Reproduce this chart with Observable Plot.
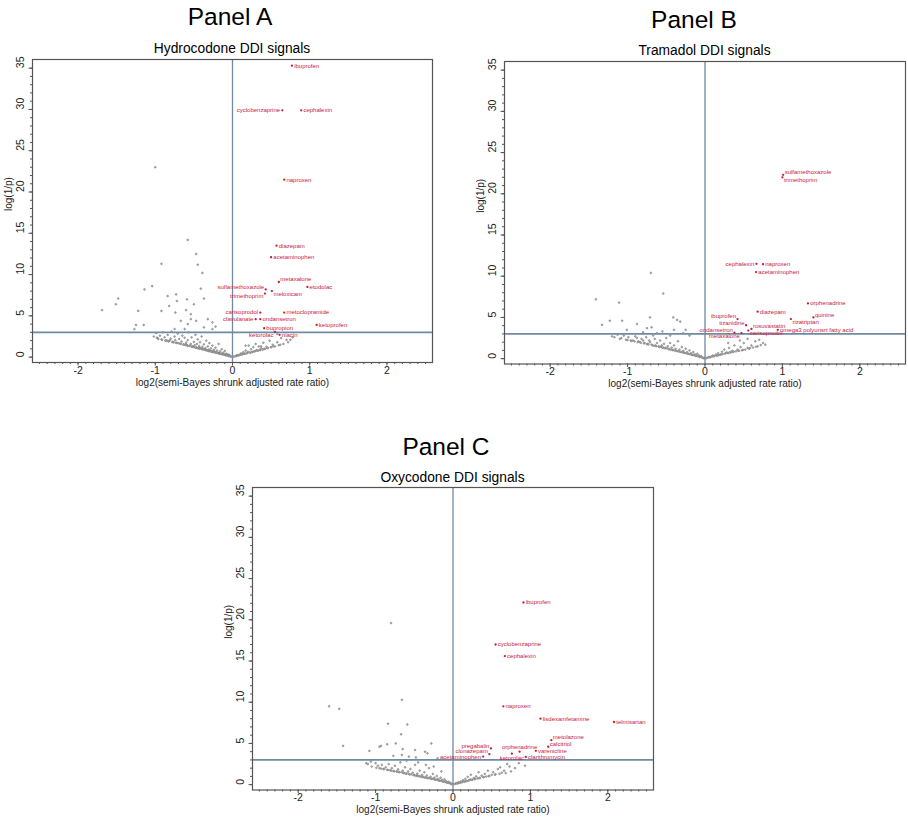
<!DOCTYPE html>
<html><head><meta charset="utf-8">
<script src="https://cdn.jsdelivr.net/npm/d3@7"></script>
<script src="https://cdn.jsdelivr.net/npm/@observablehq/plot@0.6"></script>
<style>
body{margin:0;background:#fff;}
#wrap{position:relative;width:908px;height:819px;overflow:hidden;background:#fff;font-family:"Liberation Sans",Arial,Helvetica,sans-serif;}
#wrap > div.p{position:absolute;}
#titles{position:absolute;left:0;top:0;pointer-events:none;}
</style></head>
<body><div id="wrap"></div>
<script>
// ---------------- DATA ----------------
const panelTitles = ["Panel A", "Panel B", "Panel C"];
const subTitles = ["Hydrocodone DDI signals", "Tramadol DDI signals", "Oxycodone DDI signals"];
const xLabel = "log2(semi-Bayes shrunk adjusted rate ratio)";
const yLabel = "log(1/p)";
const xTickValues = [-2, -1, 0, 1, 2];
const yTickValues = [0, 5, 10, 15, 20, 25, 30, 35];
const pThreshold = 3;

// Panel A: hydrocodone
const hydroNames = ["ibuprofen","cyclobenzaprine","cephalexin","naproxen","diazepam","acetaminophen","metaxalone","etodolac","sulfamethoxazole","trimethoprim","meloxicam","carisoprodol","metoclopramide","clavulanate","ondansetron","ketoprofen","bupropion","ketorolac","niacin"];
const hydroX = [0.77,0.645,0.89,0.67,0.57,0.50,0.60,0.97,0.43,0.42,0.51,0.36,0.67,0.30,0.36,1.09,0.41,0.55,0.61];
const hydroY = [35.3,29.9,29.9,21.5,13.5,12.1,9.1,8.5,8.2,7.7,8.0,5.4,5.4,4.6,4.6,3.9,3.5,3.05,2.7];
const hydroOther = [
[-0.58,14.2],[-0.47,12.5],[-0.92,11.3],[-0.45,11.2],[-0.39,10.2],[-1.04,8.6],[-1.14,8.2],[-0.41,8.3],[-1.48,7.1],[-0.73,7.6],[-0.84,7.4],[-0.59,7.0],[-0.37,7.1],[-1.51,6.4],[-0.82,6.2],[-0.72,6.8],[-0.50,6.4],[-1.69,5.7],[-1.22,5.6],[-0.92,5.6],[-0.60,5.7],[-0.74,5.4],[-0.54,5.2],[-1.0,23.0],
[-1.27,3.4],[-1.15,3.9],[-1.25,3.9],[-0.75,3.4],[-0.62,3.4],[-0.47,4.4],[-0.32,4.6],[-0.26,4.2],[-0.22,3.7],[-0.67,4.4],[-0.58,4.0],[-0.54,4.6],[-0.37,3.6],[-0.26,3.4],
[-1.02,2.5],[-0.99,2.9],[-0.97,2.3],[-0.94,2.6],[-0.92,2.15],[-0.9,3.0],[-0.88,2.4],[-0.86,2.05],[-0.84,2.7],[-0.82,1.95],[-0.8,2.25],[-0.79,3.1],[-0.77,1.85],[-0.75,2.5],[-0.74,2.05],[-0.72,1.75],[-0.71,2.85],[-0.69,2.2],[-0.68,1.65],[-0.66,1.9],[-0.65,2.6],[-0.63,1.55],[-0.62,2.35],[-0.6,1.75],[-0.59,1.45],[-0.58,2.05],[-0.57,3.0],[-0.55,1.4],[-0.54,1.6],[-0.53,2.4],[-0.51,1.3],[-0.5,1.85],[-0.49,1.45],[-0.48,2.7],[-0.47,1.2],[-0.46,1.6],[-0.45,2.15],[-0.44,1.15],[-0.43,1.35],[-0.42,1.8],[-0.41,1.05],[-0.4,2.5],[-0.39,1.25],[-0.38,1.0],[-0.37,1.55],[-0.36,0.95],[-0.35,1.1],[-0.34,2.0],[-0.33,0.85],[-0.32,1.3],[-0.31,0.9],[-0.3,1.7],[-0.29,0.78],[-0.28,1.05],[-0.27,0.72],[-0.26,1.4],[-0.25,0.68],[-0.24,0.9],[-0.23,0.62],[-0.22,1.15],[-0.21,0.58],[-0.2,0.8],[-0.19,0.52],[-0.18,1.6],[-0.17,0.47],[-0.16,0.7],[-0.15,0.42],[-0.14,0.95],[-0.13,0.38],[-0.12,0.55],[-0.11,0.32],[-0.1,0.75],[-0.09,0.27],[-0.08,0.42],[-0.07,0.22],[-0.06,0.33],[-0.05,0.17],[-0.04,0.25],[-0.03,0.12],[-0.02,0.08],[-0.01,0.05],
[-0.96,2.2],[-0.85,2.0],[-0.78,1.82],[-0.7,1.68],[-0.64,1.52],[-0.56,1.38],[-0.52,1.28],[-0.46,1.12],[-0.4,1.0],[-0.35,0.88],[-0.3,0.75],[-0.26,0.65],[-0.22,0.56],[-0.18,0.48],[-0.14,0.4],[-0.1,0.3],[-0.06,0.2],
[-0.98,2.35],[-0.91,2.1],[-0.87,2.0],[-0.83,1.9],[-0.81,2.05],[-0.76,1.78],[-0.73,1.7],[-0.67,1.6],[-0.61,1.45],[-0.6,1.55],[-0.58,1.35],[-0.53,1.25],[-0.5,1.2],[-0.48,1.15],[-0.45,1.08],[-0.43,1.02],[-0.42,1.1],[-0.39,0.95],[-0.37,0.9],[-0.34,0.82],[-0.32,0.78],[-0.31,0.75],[-0.29,0.7],[-0.27,0.66],[-0.25,0.62],[-0.24,0.6],[-0.21,0.54],[-0.19,0.5],[-0.17,0.44],[-0.16,0.42],[-0.13,0.35],[-0.12,0.33],[-0.09,0.25],[-0.08,0.23],[-0.05,0.15],[-0.04,0.13],
[0.01,0.05],[0.03,0.1],[0.05,0.15],[0.06,0.25],[0.08,0.22],[0.1,0.3],[0.11,0.45],[0.13,0.35],[0.14,0.6],[0.16,0.42],[0.17,0.8],[0.19,0.48],[0.2,0.65],[0.21,1.4],[0.23,0.55],[0.24,0.95],[0.26,0.62],[0.27,1.2],[0.29,0.7],[0.3,1.6],[0.31,0.85],[0.33,0.78],[0.34,1.3],[0.36,0.85],[0.37,1.05],[0.39,0.9],[0.4,1.75],[0.42,1.0],[0.44,1.25],[0.46,1.1],[0.48,2.0],[0.5,1.2],[0.52,1.5],[0.55,1.3],[0.58,1.8],[0.6,1.45],[0.63,2.3],[0.66,1.6],[0.7,2.1],[0.72,1.8],[0.75,2.1],[0.78,2.4],[0.58,2.8],[0.17,1.4],[0.37,1.3],[0.5,1.2],
[0.04,0.12],[0.07,0.2],[0.09,0.25],[0.12,0.32],[0.15,0.4],[0.18,0.46],[0.22,0.55],[0.25,0.62],[0.28,0.7],[0.32,0.8],[0.35,0.88],[0.41,1.0],[0.45,1.12],[0.53,1.3],[0.62,1.5]
];

// Panel B: tramadol
const tramNames = ["sulfamethoxazole","trimethoprim","cephalexin","naproxen","acetaminophen","orphenadrine","diazepam","quinine","ibuprofen","rizatriptan","tizanidine","rosuvastatin","omega3 polyunsrt fatty acid","carisoprodol","ondansetron","metaxalone"];
const tramX = [1.01,1.0,0.665,0.75,0.66,1.33,0.68,1.40,0.42,1.11,0.53,0.60,0.94,0.56,0.38,0.47];
const tramY = [22.3,22.0,11.5,11.45,10.5,6.7,5.7,5.0,4.8,4.8,4.05,3.6,3.5,3.4,3.15,3.1];
const tramOther = [
[-0.70,10.4],[-0.54,7.9],[-1.41,7.2],[-1.11,6.8],[-1.33,4.1],[-1.23,4.6],[-1.07,4.6],[-0.88,4.2],[-0.71,5.0],[-0.69,3.8],[-0.75,3.7],[-1.01,3.5],[-0.41,5.0],[-0.36,4.7],[-0.32,4.5],[-0.40,3.5],[-0.25,3.5],
[-1.2,2.7],[-1.17,2.6],[-1.13,2.9],[-1.1,2.4],[-1.08,2.5],[-1.05,2.8],[-1.02,2.3],[-0.99,2.6],[-0.96,2.2],[-0.93,2.2],[-0.9,2.7],[-0.88,2.5],[-0.86,2.1],[-0.84,2.0],[-0.82,2.4],[-0.8,2.2],[-0.78,1.9],[-0.76,2.6],[-0.74,1.8],[-0.72,2.2],[-0.71,2.0],[-0.69,1.7],[-0.67,2.8],[-0.65,2.4],[-0.64,1.6],[-0.62,1.9],[-0.6,1.5],[-0.58,2.2],[-0.57,1.45],[-0.56,1.6],[-0.54,1.35],[-0.53,1.8],[-0.51,1.3],[-0.5,2.5],[-0.49,1.25],[-0.48,1.5],[-0.46,1.15],[-0.45,1.9],[-0.44,1.1],[-0.43,1.35],[-0.41,1.05],[-0.4,1.6],[-0.39,0.98],[-0.38,1.2],[-0.36,0.92],[-0.35,2.1],[-0.34,0.88],[-0.33,1.1],[-0.31,0.82],[-0.3,1.4],[-0.29,0.76],[-0.28,0.95],[-0.26,0.7],[-0.25,1.2],[-0.24,0.64],[-0.23,0.8],[-0.21,0.58],[-0.2,1.0],[-0.19,0.52],[-0.18,0.66],[-0.16,0.45],[-0.15,0.8],[-0.14,0.4],[-0.13,0.52],[-0.11,0.34],[-0.1,0.6],[-0.09,0.28],[-0.08,0.4],[-0.06,0.22],[-0.05,0.3],[-0.04,0.16],[-0.03,0.11],[-0.02,0.07],[-0.01,0.04],[-0.55,3.3],[-0.62,3.1],[-0.8,3.2],[-0.28,3.1],[-0.2,2.8],[-0.45,2.8],
[-1.0,2.25],[-0.95,2.15],[-0.91,2.1],[-0.87,2.0],[-0.83,1.92],[-0.79,1.85],[-0.75,1.75],[-0.73,1.72],[-0.68,1.62],[-0.66,1.56],[-0.63,1.5],[-0.59,1.42],[-0.55,1.33],[-0.52,1.26],[-0.47,1.14],[-0.42,1.04],[-0.37,0.94],[-0.32,0.82],[-0.27,0.7],[-0.22,0.58],[-0.17,0.47],[-0.12,0.34],[-0.07,0.2],
[0.01,0.04],[0.02,0.08],[0.04,0.13],[0.05,0.2],[0.07,0.18],[0.09,0.26],[0.1,0.38],[0.12,0.3],[0.14,0.5],[0.15,0.36],[0.17,0.65],[0.18,0.42],[0.2,0.5],[0.22,0.85],[0.23,0.55],[0.25,1.1],[0.26,0.62],[0.28,0.75],[0.3,0.68],[0.31,1.3],[0.33,0.75],[0.35,0.95],[0.36,0.8],[0.38,1.6],[0.4,0.88],[0.42,1.1],[0.44,0.95],[0.46,1.4],[0.48,1.0],[0.5,1.9],[0.52,1.1],[0.55,1.3],[0.57,1.2],[0.6,1.6],[0.62,1.35],[0.65,2.1],[0.68,1.5],[0.7,2.3],[0.72,1.65],[0.75,1.9],[0.78,1.7],[0.55,2.4],[0.45,2.2],[0.3,1.9],
[0.06,0.17],[0.11,0.29],[0.16,0.4],[0.21,0.52],[0.27,0.66],[0.32,0.76],[0.37,0.86],[0.43,0.97],[0.49,1.08],[0.58,1.28],[0.66,1.45]
];

// Panel C: oxycodone
const oxyNames = ["ibuprofen","cyclobenzaprine","cephalexin","naproxen","lisdexamfetamine","telmisartan","metolazone","calcitriol","pregabalin","clonazepam","orphenadrine","varenicline","acetaminophen","ketorolac","clarithromycin"];
const oxyX = [0.91,0.55,0.67,0.65,1.13,2.08,1.27,1.23,0.49,0.47,0.86,1.07,0.39,0.76,0.94];
const oxyY = [22.1,17.0,15.6,9.5,8.0,7.6,5.4,4.6,4.4,3.7,4.0,4.1,3.4,3.76,3.36];
const oxyOther = [
[-0.80,19.6],[-0.66,10.3],[-1.60,9.5],[-1.47,9.2],[-0.84,7.4],[-0.59,7.3],[-0.67,6.1],[-1.42,4.7],[-1.08,4.1],[-0.95,4.6],[-0.93,4.7],[-0.85,4.9],[-0.74,5.0],[-0.65,4.3],[-0.49,4.2],[-0.36,4.0],[-0.33,3.8],[-0.28,5.0],[-0.77,3.5],[-0.66,3.6],[-0.57,3.4],[-0.48,3.3],[-0.2,3.2],
[-1.12,2.6],[-1.06,2.8],[-0.92,2.4],[-0.9,1.9],
[-1.1,2.5],[-1.05,2.2],[-1.0,2.6],[-0.97,2.3],[-0.95,2.0],[-0.87,2.1],[-0.85,1.8],[-0.83,2.5],[-0.81,1.75],[-0.79,2.0],[-0.77,1.65],[-0.75,2.3],[-0.73,1.6],[-0.71,1.85],[-0.7,1.55],[-0.68,2.7],[-0.66,1.5],[-0.65,1.7],[-0.63,1.42],[-0.62,2.1],[-0.6,1.35],[-0.58,1.6],[-0.57,1.3],[-0.55,1.9],[-0.54,1.25],[-0.52,1.45],[-0.5,1.18],[-0.49,2.4],[-0.47,1.12],[-0.46,1.35],[-0.44,1.05],[-0.43,1.7],[-0.41,1.0],[-0.4,1.2],[-0.38,0.94],[-0.37,1.5],[-0.35,0.88],[-0.34,1.1],[-0.32,0.82],[-0.31,2.0],[-0.3,0.78],[-0.29,0.95],[-0.27,0.72],[-0.26,1.3],[-0.25,0.68],[-0.24,0.85],[-0.22,0.62],[-0.21,1.05],[-0.2,0.57],[-0.19,0.7],[-0.17,0.5],[-0.16,0.85],[-0.15,0.45],[-0.14,0.58],[-0.12,0.38],[-0.11,0.65],[-0.1,0.32],[-0.09,0.44],[-0.07,0.25],[-0.06,0.35],[-0.05,0.18],[-0.04,0.26],[-0.03,0.12],[-0.02,0.08],[-0.01,0.05],[-0.6,2.9],[-0.45,2.7],[-0.35,2.4],[-0.25,2.2],[-0.15,1.6],
[-0.99,2.05],[-0.93,1.95],[-0.89,1.88],[-0.84,1.78],[-0.8,1.7],[-0.76,1.62],[-0.72,1.56],[-0.69,1.5],[-0.64,1.4],[-0.61,1.33],[-0.56,1.24],[-0.51,1.14],[-0.48,1.08],[-0.45,1.02],[-0.42,0.96],[-0.39,0.9],[-0.36,0.84],[-0.33,0.78],[-0.28,0.68],[-0.23,0.58],[-0.18,0.47],[-0.13,0.36],[-0.08,0.24],
[0.01,0.05],[0.03,0.1],[0.04,0.18],[0.06,0.15],[0.07,0.28],[0.09,0.22],[0.1,0.4],[0.12,0.3],[0.13,0.55],[0.15,0.36],[0.16,0.7],[0.18,0.42],[0.19,0.95],[0.2,0.5],[0.22,0.62],[0.23,1.2],[0.25,0.6],[0.27,0.8],[0.28,0.68],[0.3,1.0],[0.32,0.75],[0.33,1.5],[0.35,0.82],[0.37,1.1],[0.39,0.9],[0.41,1.3],[0.43,0.98],[0.45,1.7],[0.47,1.05],[0.5,1.2],[0.52,1.5],[0.55,1.25],[0.58,1.9],[0.61,2.1],[0.63,1.45],[0.66,1.7],[0.68,1.4],[0.7,2.5],[0.73,2.2],[0.75,1.6],[0.8,2.0],[0.93,2.3],[0.85,2.6],
[0.05,0.14],[0.08,0.22],[0.11,0.3],[0.14,0.38],[0.17,0.45],[0.21,0.53],[0.24,0.6],[0.29,0.7],[0.34,0.8],[0.4,0.92],[0.46,1.04],[0.54,1.2],[0.6,1.32]
];

// ---------------- STYLE / LAYOUT ----------------
// label clock positions (Stata-style mlabposition) for the labelled signals
const labelClock = {
  A: [3,9,3,3,3,3,2,3,10,8,4,9,3,9,3,3,3,8,3],
  B: [2,4,9,3,3,3,3,2,10,4,10,2,3,4,10,8],
  C: [3,3,3,3,3,3,2,2,10,10,12,3,9,6,3]
};
const FONT = '"Liberation Sans", Arial, Helvetica, sans-serif';
const RED = "#c8193f";
const GRAY = "#7a7a7a";
const LINE = "#6f8aa3";
const FRAME = "#555555";

function panel(cfg){
  const sig = cfg.names.map((n,i)=>({name:n, x:cfg.xs[i], y:cfg.ys[i], pos:cfg.pos[i]}));
  const pts = cfg.other.map(([x,y])=>({x,y}));
  const off = {3:[2.2,0,"start"],9:[-2.2,0,"end"],2:[1.5,-2.6,"start"],4:[1.5,2.8,"start"],10:[-1.5,-2.6,"end"],8:[-1.5,2.8,"end"],12:[0,-4.5,"middle"],6:[0,4.5,"middle"]};
  const labelMarks = Object.entries(off).map(([p,[dx,dy,a]]) =>
    Plot.text(sig.filter(d=>d.pos===+p), {x:"x", y:"y", text:"name", dx, dy, textAnchor:a, fill:RED, fontSize:6}));
  const minorY = d3.range(0,36);
  const minorX = d3.range(-25,26).map(i=>i/10);
  return Plot.plot({
    width: cfg.width, height: cfg.height,
    marginLeft: cfg.ml, marginRight: cfg.mr, marginTop: cfg.mt, marginBottom: cfg.mb,
    style: {fontFamily: FONT, background: "white", overflow: "visible"},
    x: {domain: [-2.59, 2.59]},
    y: {domain: [-0.65, 36.05]},
    marks: [
      Plot.axisY({ticks: minorY, tickSize: 2, tickFormat: ()=>"", label: null, stroke: FRAME}),
      Plot.axisY({ticks: yTickValues, tickSize: 3.5, tickFormat: ()=>"", label: null, stroke: FRAME}),
      Plot.axisX({ticks: minorX, tickSize: 2, tickFormat: ()=>"", label: null, stroke: FRAME}),
      Plot.axisX({ticks: xTickValues, tickSize: 3.5, tickFormat: ()=>"", label: null, stroke: FRAME}),
      Plot.text(yTickValues, {y: d=>d, text: d=>String(d), frameAnchor: "left", dx: -12, rotate: -90, fontSize: 10.5, fill: "#222"}),
      Plot.text(xTickValues, {x: d=>d, text: d=>String(d), frameAnchor: "bottom", dy: 11, fontSize: 10.5, fill: "#222"}),
      Plot.text([yLabel], {frameAnchor: "left", dx: -24, rotate: -90, fontSize: 10, fill: "#222"}),
      Plot.text([xLabel], {frameAnchor: "bottom", dy: 23, fontSize: 10, fill: "#222"}),
      Plot.ruleX([0], {stroke: LINE, strokeWidth: 1.3}),
      Plot.ruleY([pThreshold], {stroke: LINE, strokeWidth: 1.6}),
      Plot.dot(pts, {x:"x", y:"y", r: 0.85, stroke: GRAY, strokeWidth: 0.65, fill: "#bdbdbd"}),
      Plot.dot(sig, {x:"x", y:"y", r: 1.15, fill: RED, stroke: "none"}),
      ...labelMarks,
      Plot.frame({stroke: FRAME, strokeWidth: 1.2})
    ]
  });
}

const wrap = document.getElementById("wrap");
const layouts = [
  {left:0, top:0, width:454, height:400, ml:32, mr:22, mt:59, mb:38, names:hydroNames, xs:hydroX, ys:hydroY, other:hydroOther, pos:labelClock.A},
  {left:454, top:0, width:454, height:400, ml:50, mr:3, mt:61, mb:36.5, names:tramNames, xs:tramX, ys:tramY, other:tramOther, pos:labelClock.B},
  {left:220, top:428, width:454, height:391, ml:32, mr:21, mt:59, mb:29.5, names:oxyNames, xs:oxyX, ys:oxyY, other:oxyOther, pos:labelClock.C}
];
layouts.forEach(l=>{
  const d = document.createElement("div");
  d.className = "p";
  d.style.left = l.left + "px"; d.style.top = l.top + "px";
  d.appendChild(panel(l));
  wrap.appendChild(d);
});

// titles overlay
const titlePos = [
  {x:230, y:25, sx:232, sy:53.3},
  {x:694, y:28, sx:704.5, sy:55},
  {x:446, y:455, sx:452.5, sy:481.7}
];
const svg = d3.select(wrap).append("svg").attr("id","titles").attr("width",908).attr("height",819)
  .style("font-family", FONT);
titlePos.forEach((t,i)=>{
  svg.append("text").attr("x",t.x).attr("y",t.y).attr("text-anchor","middle").attr("font-size",24.5).attr("fill","#000").text(panelTitles[i]);
  svg.append("text").attr("x",t.sx).attr("y",t.sy).attr("text-anchor","middle").attr("font-size",13.8).attr("fill","#000").text(subTitles[i]);
});
</script></body></html>
